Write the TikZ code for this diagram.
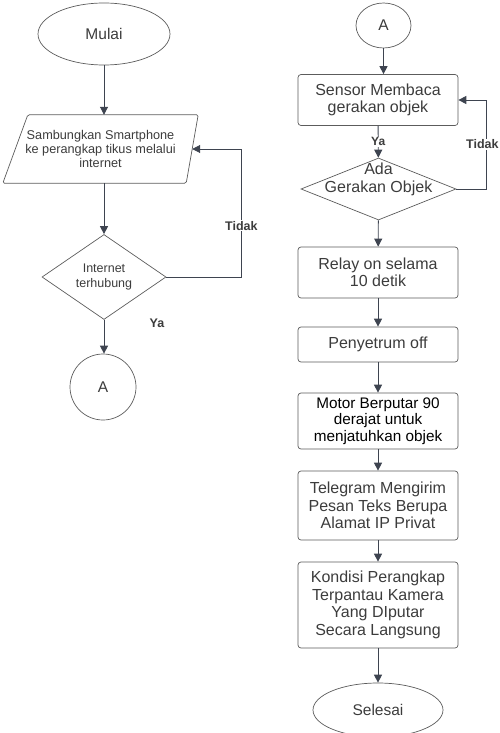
\documentclass[tikz,border=0pt]{standalone}
\usepackage{fontspec}
\setmainfont{Liberation Sans}
\usetikzlibrary{shapes.geometric,arrows.meta}

\definecolor{garis}{HTML}{3E4450}
\definecolor{tepi}{HTML}{5C5C5C}
\definecolor{teks}{HTML}{3C3C3C}

\begin{document}
\begin{tikzpicture}[x=1pt,y=-1pt,
  every node/.style={text=teks,inner sep=0pt},
  panah/.style={draw=garis,line width=0.9pt,-{Triangle[length=8pt,width=8pt]}},
  proses/.style={draw=tepi,line width=0.7pt,rounded corners=3pt,minimum width=160pt,align=center,font=\fontsize{16}{17.5}\selectfont},
  terminal/.style={draw=tepi,line width=0.7pt,ellipse,font=\fontsize{15.5}{18}\selectfont},
  keputusan/.style={draw=tepi,line width=0.7pt,diamond,align=center},
  ket/.style={font=\bfseries\fontsize{12.5}{14}\selectfont,fill=white,inner sep=1pt}]
  \useasboundingbox (0,0) rectangle (499,733);
  \clip (0,0) rectangle (499,733);

  % kolom kiri
  \node [terminal,minimum width=132pt,minimum height=62pt] (mulai) at (104,34) {Mulai};
  \node [minimum width=195pt,minimum height=68pt,align=center,
    font=\fontsize{12.7}{14}\selectfont] (sambung) at (100.5,149)
    {Sambungkan Smartphone\\ke perangkap tikus melalui\\internet};
  \draw [tepi,line width=0.7pt,rounded corners=1.5pt] (sambung.south west) -- ([xshift=-12pt]sambung.south east)
    -- (sambung.north east) -- ([xshift=25pt]sambung.north west) -- cycle;
  \node [keputusan,minimum width=124pt,minimum height=85pt,font=\fontsize{12.5}{15}\selectfont] (internet) at (104,277) {Internet\\terhubung};
  \node [draw=tepi,line width=0.7pt,circle,minimum size=66pt,font=\fontsize{15.5}{18}\selectfont] (konA) at (103,387) {A};

  \draw [panah] (mulai.south) -- (mulai.south |- sambung.north);
  \draw [panah] (sambung.south -| internet.north) -- (internet.north);
  \draw [panah] (internet.south) -- (internet.south |- konA.north);
  \draw [panah] (internet.east) -- ++(75,0) |- ([xshift=-6pt]sambung.east) node [ket,pos=0.2] {Tidak};
  \node [ket,fill=none] (yakiri) at (157,323) {Ya};

  % kolom kanan
  \node [terminal,minimum width=55pt,minimum height=45pt] (kanA) at (383.5,25.5) {A};
  \node [proses,minimum height=51pt] (sensor) at (378,100) {Sensor Membaca\\gerakan objek};
  \node [keputusan,minimum width=155pt,minimum height=62pt,
    label={[font=\fontsize{16}{18}\selectfont,align=center,yshift=10pt]center:Ada\\Gerakan Objek}] (ada) at (378.5,189) {};
  \node [proses,minimum height=51pt] (relay) at (378,272.5) {Relay on selama\\10 detik};
  \node [proses,minimum height=35pt] (penyetrum) at (378,344.5) {Penyetrum off};
  \node [proses,minimum height=56pt,text=black,font=\fontsize{15.3}{16.5}\selectfont] (motor) at (378,421) {Motor Berputar 90\\derajat untuk\\menjatuhkan objek};
  \node [proses,minimum height=69pt] (telegram) at (378,505.5) {Telegram Mengirim\\Pesan Teks Berupa\\Alamat IP Privat};
  \node [proses,minimum height=86pt] (kondisi) at (378,605) {Kondisi Perangkap\\Terpantau Kamera\\Yang DIputar\\Secara Langsung};
  \node [terminal,minimum width=130pt,minimum height=54pt] (selesai) at (378,710) {Selesai};

  \draw [panah] (kanA) -- (kanA |- sensor.north);
  \draw [panah] (sensor) -- (ada) node [ket,midway,font=\bfseries\fontsize{12}{13}\selectfont] {Ya};
  \draw [panah] (ada.east) -- ++(30,0) |- (sensor.east) node [ket,pos=0.25,xshift=-4pt] {Tidak};
  \foreach \dari/\ke in {ada/relay,relay/penyetrum,penyetrum/motor,motor/telegram,telegram/kondisi,kondisi/selesai}
    \draw [panah] (\dari) -- (\ke);
\end{tikzpicture}
\end{document}
